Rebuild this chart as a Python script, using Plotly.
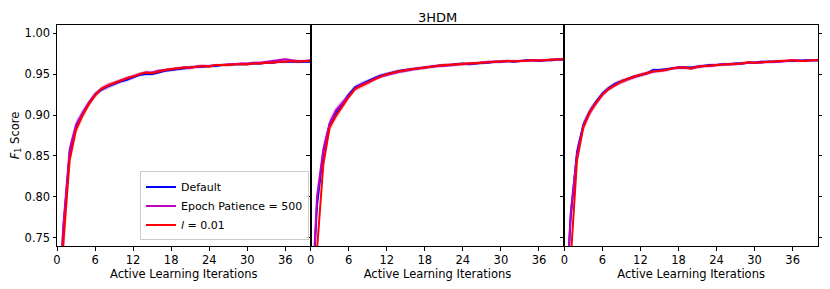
import plotly.graph_objects as go
from plotly.subplots import make_subplots

iterations = list(range(0, 41))
x_ticks = [0, 6, 12, 18, 24, 30, 36]
y_ticks = [0.75, 0.80, 0.85, 0.90, 0.95, 1.00]
series_names = ["Default", "Epoch Patience = 500", "<i>l</i> = 0.01"]
series_colors = ["#0000ff", "#bf00bf", "#ff0000"]
band_colors = ["rgba(0,0,255,0.2)", "rgba(191,0,191,0.2)", "rgba(255,0,0,0.2)"]

# Panel 1
p1_default = [0.62, 0.760, 0.855, 0.886, 0.901, 0.914, 0.925, 0.931, 0.935, 0.938,
              0.941, 0.943, 0.946, 0.949, 0.950, 0.950, 0.952, 0.954, 0.955, 0.956,
              0.957, 0.958, 0.959, 0.959, 0.960, 0.960, 0.961, 0.961, 0.962, 0.962,
              0.962, 0.963, 0.963, 0.964, 0.964, 0.965, 0.965, 0.965, 0.965, 0.965, 0.965]
p1_patience = [0.62, 0.765, 0.858, 0.888, 0.902, 0.915, 0.925, 0.932, 0.936, 0.939,
               0.942, 0.945, 0.947, 0.950, 0.952, 0.952, 0.954, 0.955, 0.956, 0.957,
               0.958, 0.958, 0.959, 0.960, 0.960, 0.961, 0.961, 0.962, 0.962, 0.963,
               0.963, 0.964, 0.964, 0.965, 0.966, 0.967, 0.968, 0.967, 0.966, 0.966, 0.967]
p1_lr = [0.60, 0.745, 0.845, 0.882, 0.899, 0.913, 0.924, 0.932, 0.936, 0.939,
         0.942, 0.945, 0.947, 0.950, 0.952, 0.951, 0.953, 0.955, 0.956, 0.957,
         0.958, 0.958, 0.959, 0.960, 0.959, 0.961, 0.961, 0.961, 0.962, 0.962,
         0.962, 0.963, 0.963, 0.964, 0.964, 0.965, 0.965, 0.966, 0.965, 0.966, 0.966]

# Panel 2
p2_default = [0.64, 0.790, 0.855, 0.889, 0.902, 0.913, 0.925, 0.934, 0.938, 0.941,
              0.945, 0.948, 0.950, 0.952, 0.954, 0.955, 0.956, 0.957, 0.958, 0.959,
              0.960, 0.961, 0.961, 0.962, 0.963, 0.962, 0.963, 0.964, 0.964, 0.965,
              0.965, 0.966, 0.965, 0.966, 0.967, 0.967, 0.966, 0.967, 0.967, 0.968, 0.968]
p2_patience = [0.64, 0.800, 0.858, 0.890, 0.906, 0.915, 0.924, 0.932, 0.937, 0.940,
               0.944, 0.947, 0.949, 0.951, 0.953, 0.954, 0.956, 0.957, 0.958, 0.959,
               0.960, 0.960, 0.961, 0.962, 0.962, 0.963, 0.963, 0.964, 0.965, 0.965,
               0.965, 0.966, 0.966, 0.966, 0.966, 0.967, 0.967, 0.967, 0.968, 0.968, 0.968]
p2_lr = [0.60, 0.735, 0.840, 0.885, 0.899, 0.911, 0.922, 0.932, 0.936, 0.939,
         0.944, 0.947, 0.950, 0.952, 0.9535, 0.955, 0.956, 0.957, 0.958, 0.9595,
         0.960, 0.961, 0.9615, 0.962, 0.9625, 0.963, 0.9635, 0.964, 0.9645, 0.965,
         0.9655, 0.966, 0.9655, 0.966, 0.9665, 0.967, 0.9665, 0.967, 0.9675, 0.968, 0.9685]

# Panel 3
p3_default = [0.63, 0.775, 0.855, 0.888, 0.904, 0.916, 0.926, 0.933, 0.938, 0.941,
              0.944, 0.947, 0.949, 0.951, 0.955, 0.955, 0.956, 0.957, 0.958, 0.958,
              0.958, 0.959, 0.960, 0.961, 0.961, 0.962, 0.962, 0.963, 0.963, 0.964,
              0.964, 0.965, 0.965, 0.965, 0.966, 0.966, 0.966, 0.966, 0.967, 0.967, 0.967]
p3_patience = [0.63, 0.780, 0.852, 0.887, 0.904, 0.915, 0.925, 0.932, 0.937, 0.941,
               0.944, 0.946, 0.949, 0.951, 0.953, 0.954, 0.955, 0.957, 0.958, 0.958,
               0.957, 0.959, 0.960, 0.960, 0.961, 0.962, 0.962, 0.962, 0.963, 0.964,
               0.964, 0.964, 0.965, 0.965, 0.965, 0.966, 0.967, 0.967, 0.966, 0.967, 0.967]
p3_lr = [0.60, 0.730, 0.845, 0.885, 0.903, 0.915, 0.925, 0.932, 0.937, 0.941,
         0.944, 0.947, 0.949, 0.951, 0.9535, 0.954, 0.955, 0.957, 0.958, 0.958,
         0.957, 0.959, 0.960, 0.9605, 0.961, 0.9615, 0.962, 0.9625, 0.963, 0.9645,
         0.964, 0.9645, 0.965, 0.965, 0.9655, 0.966, 0.967, 0.966, 0.966, 0.967, 0.967]

# half-width of shaded spread band
band = [0.02, 0.012, 0.008, 0.006, 0.005, 0.004, 0.0035, 0.003, 0.003, 0.0028,
        0.0026, 0.0025, 0.0024, 0.0023, 0.0022, 0.0022, 0.0021, 0.002, 0.002, 0.002,
        0.002, 0.002, 0.0019, 0.0019, 0.0018, 0.0018, 0.0018, 0.0018, 0.0017, 0.0017,
        0.0017, 0.0017, 0.0017, 0.0016, 0.0016, 0.0016, 0.0016, 0.0016, 0.0016, 0.0016, 0.0016]

panel_title = "3HDM"
x_label = "Active Learning Iterations"
y_label = "<i>F</i><sub>1</sub> Score"

panels = [
    [p1_default, p1_patience, p1_lr],
    [p2_default, p2_patience, p2_lr],
    [p3_default, p3_patience, p3_lr],
]

FONT = "DejaVu Sans"

fig = make_subplots(rows=1, cols=3, shared_yaxes=True, horizontal_spacing=0)

for pi, series in enumerate(panels):
    col = pi + 1
    for si, vals in enumerate(series):
        upper = [v + b for v, b in zip(vals, band)]
        lower = [v - b for v, b in zip(vals, band)]
        fig.add_trace(go.Scatter(
            x=iterations + iterations[::-1], y=upper + lower[::-1],
            fill="toself", fillcolor=band_colors[si], line=dict(width=0),
            mode="lines", hoverinfo="skip", showlegend=False), row=1, col=col)
    for si, vals in enumerate(series):
        fig.add_trace(go.Scatter(
            x=iterations, y=vals, mode="lines", name=series_names[si],
            line=dict(color=series_colors[si], width=2),
            showlegend=(pi == 0)), row=1, col=col)

axis_common = dict(showline=True, linecolor="black", linewidth=1,
                   ticks="outside", ticklen=3.5, tickwidth=0.8, tickcolor="black",
                   showgrid=False, zeroline=False,
                   tickfont=dict(family=FONT, size=11.5, color="black"))

for i in range(1, 4):
    fig.update_xaxes(row=1, col=i, range=[0, 40], tickvals=x_ticks,
                     title=dict(text=x_label, standoff=2,
                                font=dict(family=FONT, size=11.5, color="black")),
                     mirror=True, **axis_common)
    fig.update_yaxes(row=1, col=i, range=[0.74, 1.01], tickvals=y_ticks,
                     tickformat=".2f", mirror=("ticks" if i == 3 else True),
                     **axis_common)

fig.update_yaxes(row=1, col=1,
                 title=dict(text=y_label, standoff=4,
                            font=dict(family=FONT, size=11.5, color="black")))

fig.add_annotation(text=panel_title, xref="x2 domain", x=0.5, yref="paper",
                   y=1.0769, yanchor="top", showarrow=False,
                   font=dict(family=FONT, size=13, color="black"))

fig.update_layout(
    width=822, height=281,
    margin=dict(l=49, r=12, t=17, b=43, autoexpand=False),
    paper_bgcolor="white", plot_bgcolor="white",
    font=dict(family=FONT, size=11.5, color="black"),
    legend=dict(x=0.109, xanchor="left", y=0.025, yanchor="bottom",
                bgcolor="rgba(255,255,255,0.85)", bordercolor="#cccccc",
                borderwidth=1, font=dict(family=FONT, size=11, color="black"),
                tracegroupgap=0, itemwidth=30),
)

fig.write_html("out.html")
